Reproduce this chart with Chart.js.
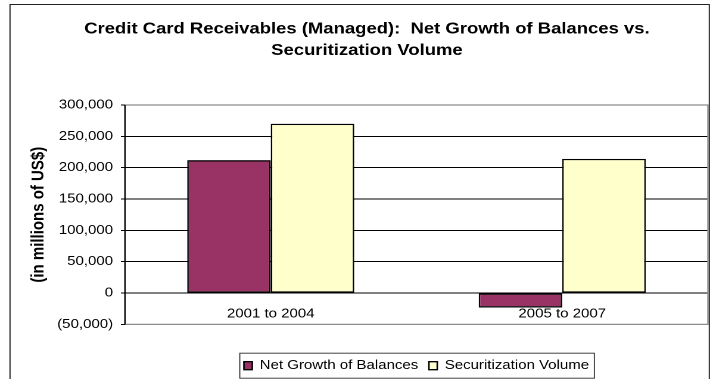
<!DOCTYPE html>
<html>
<head>
<meta charset="utf-8">
<script src="https://cdn.jsdelivr.net/npm/chart.js@4.4.1/dist/chart.umd.min.js"></script>
<style>
  html, body { margin: 0; padding: 0; background: #fff; overflow: hidden; }
  #wrap { width: 596px; height: 379px; transform: scaleX(1.19128); transform-origin: 0 0; }
</style>
</head>
<body>
<div id="wrap"><canvas id="chart" width="596" height="379"></canvas></div>
<script>
// chart data
const categories = ['2001 to 2004', '2005 to 2007'];
const netGrowth = [212000, -23000];
const securitization = [270000, 214000];
const yMin = -50000;
const yMax = 300000;
const yStep = 50000;

const FONT = "'Liberation Sans', Arial, sans-serif";
Chart.defaults.font.family = FONT;
Chart.defaults.color = '#000';

function fmt(v) {
    const s = Math.abs(v).toLocaleString('en-US');
    return v < 0 ? '(' + s + ')' : s;
}

// outer frame, plot border and the box round the legend
const frames = {
    id: 'frames',
    beforeDraw(chart) {
        const ctx = chart.ctx;
        ctx.save();
        ctx.strokeStyle = '#222';
        ctx.lineWidth = 1;
        ctx.strokeRect(8.4, 4.5, 587, 400);
        ctx.restore();
    },
    afterDraw(chart) {
        const ctx = chart.ctx;
        const a = chart.chartArea;
        ctx.save();
        ctx.strokeStyle = '#8c8c8c';
        ctx.lineWidth = 1.3;
        ctx.beginPath();
        ctx.moveTo(a.left, a.top);
        ctx.lineTo(a.right, a.top);
        ctx.lineTo(a.right, a.bottom);
        ctx.lineTo(a.left, a.bottom);
        ctx.stroke();
        ctx.strokeStyle = '#000';
        ctx.lineWidth = 1.2;
        ctx.beginPath();
        ctx.moveTo(a.left, a.top);
        ctx.lineTo(a.left, a.bottom);
        ctx.stroke();

        const boxes = chart.legend.legendHitBoxes;
        if (boxes && boxes.length) {
            const minX = Math.min(...boxes.map(b => b.left));
            const maxX = Math.max(...boxes.map(b => b.left + b.width));
            const cy = boxes[0].top + boxes[0].height / 2;
            ctx.strokeStyle = '#444';
            ctx.lineWidth = 1;
            ctx.strokeRect(minX - 3.5, cy - 12.5, maxX - minX + 8, 25);
        }
        ctx.restore();
    }
};

new Chart(document.getElementById('chart'), {
    type: 'bar',
    data: {
        labels: categories,
        datasets: [{
            label: 'Net Growth of Balances',
            data: netGrowth,
            backgroundColor: '#993366',
            borderColor: '#000',
            borderWidth: 1.3,
            borderSkipped: false
        }, {
            label: 'Securitization Volume',
            data: securitization,
            backgroundColor: '#FFFFCC',
            borderColor: '#000',
            borderWidth: 1.3,
            borderSkipped: false
        }]
    },
    options: {
        responsive: false,
        animation: false,
        devicePixelRatio: 2,
        categoryPercentage: 0.573,
        barPercentage: 1,
        layout: { padding: { left: 21.7, right: 1.7, top: 0, bottom: -3 } },
        plugins: {
            title: {
                display: true,
                text: ['Credit Card Receivables (Managed):  Net Growth of Balances vs.', 'Securitization Volume'],
                font: { size: 15.5, weight: 'bold', lineHeight: 1.4 },
                color: '#000',
                padding: { top: 18.2, bottom: 43.4 }
            },
            legend: {
                position: 'bottom',
                fullSize: false,
                labels: {
                    boxWidth: 7,
                    boxHeight: 8,
                    padding: 9,
                    font: { size: 12.6 },
                    color: '#000'
                }
            },
            tooltip: { enabled: false }
        },
        scales: {
            x: {
                grid: { display: false, drawTicks: false },
                border: { display: false },
                ticks: { display: false },
                afterFit(axis) { axis.height = 26; }
            },
            // category labels sit next to the zero line, as in the original
            xLabels: {
                type: 'category',
                position: { y: 0 },
                offset: true,
                grid: { display: false, drawTicks: false },
                border: { display: false },
                ticks: { font: { size: 12.6 }, padding: 13.4, color: '#000' }
            },
            y: {
                min: yMin,
                max: yMax,
                border: { display: false },
                grid: {
                    color: ctx => (ctx.tick && (ctx.tick.value === yMax || ctx.tick.value === yMin)) ? '#8c8c8c' : '#000',
                    lineWidth: 1,
                    tickLength: 3.4,
                    tickColor: '#000'
                },
                ticks: {
                    stepSize: yStep,
                    padding: 6.6,
                    font: { size: 12.6 },
                    color: '#000',
                    callback: v => fmt(v)
                },
                title: {
                    display: true,
                    text: '(in millions of US$)',
                    font: { size: 15, weight: 'bold' },
                    color: '#000',
                    padding: { top: 1.6, bottom: 0 }
                },
                afterFit(axis) { axis.width = 104.9 - 21.7; }
            }
        }
    },
    plugins: [frames]
});
</script>
</body>
</html>
